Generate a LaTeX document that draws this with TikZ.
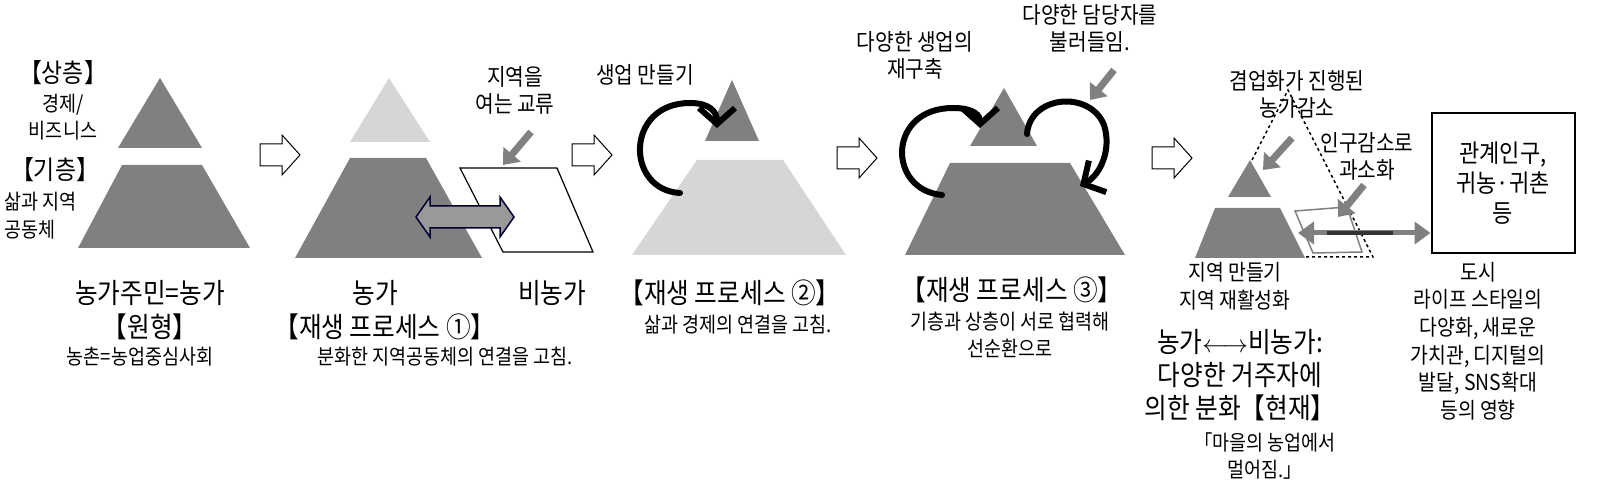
\documentclass[tikz,border=0pt]{standalone}
\usepackage{fontspec}
\setmainfont{Noto Sans CJK KR}[FakeStretch=0.88]
\usetikzlibrary{shapes, positioning, arrows.meta}

\begin{document}
\begin{tikzpicture}[x=1pt, y=-1pt,
    dark/.style={fill=black!50, draw=none},
    light/.style={fill=black!16, draw=none},
    big/.style={font=\fontsize{28}{32}\selectfont, inner sep=0pt, align=center},
    mid/.style={font=\fontsize{23}{27}\selectfont, inner sep=0pt, align=center},
    small/.style={font=\fontsize{21}{27}\selectfont, inner sep=0pt, align=center},
    step arrow/.pic={\draw[line width=1pt, fill=white]
        (-20,-11) -- (2,-11) -- (2,-20) -- (20,0) -- (2,20) -- (2,11) -- (-20,11) -- cycle;},
    swap arrow/.pic={\draw[line width=1.5pt, draw=black!80!blue, fill=black!40]
        (-49,0) -- (-35,-20) -- (-35,-11) -- (35,-11) -- (35,-20) -- (49,0)
        -- (35,20) -- (35,11) -- (-35,11) -- (-35,20) -- cycle;},
    pointer/.style={-{Triangle[length=14pt, width=22pt]}, line width=7pt, draw=black!50},
    loop/.style={line width=6pt, line cap=round,
        -{Straight Barb[length=16pt, width=36pt, line width=6pt]}}
]
\useasboundingbox (0,0) rectangle (1598,502);

% panel 1
\fill[dark] (160,78) -- (202,148) -- (118,148) -- cycle;
\fill[dark] (122,165) -- (202,165) -- (250,248) -- (78,248) -- cycle;
\node (Up1) [big, font=\fontsize{26}{30}\selectfont] at (63,73) {【상층】};
\node (Up1t) [mid, font=\fontsize{21}{27}\selectfont] at (63,117) {경제/\\비즈니스};
\node (Base1) [big, font=\fontsize{26}{30}\selectfont] at (55,170) {【기층】};
\node (Base1t) [mid, font=\fontsize{21}{28}\selectfont, align=left, anchor=west] at (4,216) {삶과 지역\\공동체};

\pic (S1) at (280,155) {step arrow};

% panel 2
\fill[light] (389,78) -- (430,142) -- (350,142) -- cycle;
\fill[dark] (350,158) -- (426,158) -- (482,258) -- (295,258) -- cycle;
\draw[line width=1.2pt, fill=white] (460,168) -- (557,168) -- (593,252) -- (503,252) -- cycle;
\coordinate (Q2) at (503,165);
\node (L2) [mid] at (515,90) {지역을\\여는 교류};
\draw[pointer] (531,132) -- (Q2);
\pic (X2) at (465,217) {swap arrow};

\pic (S2) at (592,155) {step arrow};

% panel 3
\fill[dark] (732,80) -- (759,141) -- (705,141) -- cycle;
\fill[light] (697,160) -- (783,160) -- (846,255) -- (632,255) -- cycle;
\node (L3) [mid] at (645,75) {생업 만들기};
\coordinate (C3a) at (680,193);
\coordinate (C3b) at (717,128);
\draw[loop] (C3a) .. controls (625,190) and (625,103) .. (690,103)
    .. controls (710,103) and (717,112) .. (C3b);

\pic (S3) at (857,158) {step arrow};

% panel 4
\fill[dark] (1004,88) -- (1037,146) -- (970,146) -- cycle;
\fill[dark] (950,163) -- (1070,163) -- (1125,255) -- (905,255) -- cycle;
\node (L4a) [mid] at (915,55) {다양한 생업의\\재구축};
\node (L4b) [mid] at (1090,28) {다양한 담당자를\\불러들임.};
\coordinate (C4a) at (942,195);
\coordinate (C4b) at (980,128);
\draw[loop] (C4a) .. controls (887,190) and (887,108) .. (953,108)
    .. controls (975,108) and (980,116) .. (C4b);
\coordinate (C4c) at (1027,134);
\coordinate (C4d) at (1080,186);
\draw[loop] (C4c) .. controls (1030,95) and (1090,90) .. (1104,125)
    .. controls (1112,150) and (1100,175) .. (C4d);
\coordinate (Q4) at (1090,100);
\draw[pointer] (1114,70) -- (Q4);

\pic (S4) at (1172,158) {step arrow};

% panel 5
\fill[dark] (1250,160) -- (1271,197) -- (1228,197) -- cycle;
\fill[dark] (1215,208) -- (1280,208) -- (1305,258) -- (1195,258) -- cycle;
\draw[dashed, line width=1.5pt] (1252,160) -- (1288,90) -- (1373,257) -- (1305,257);
\draw[black!50, line width=1.5pt] (1295,211) -- (1347,207) -- (1362,252) -- (1313,253) -- cycle;
\node (L5a) [mid] at (1297,94) {겸업화가 진행된\\농가감소};
\node (L5b) [mid] at (1367,156) {인구감소로\\과소화};
\coordinate (Q5a) at (1263,170);
\coordinate (Q5b) at (1338,217);
\draw[pointer] (1292,138) -- (Q5a);
\draw[pointer] (1364,185) -- (Q5b);
\node (City) [draw, line width=2pt, minimum width=143pt, minimum height=140pt,
    mid, font=\fontsize{25}{30}\selectfont] at (1503,183) {관계인구,\\귀농·귀촌\\등};
\coordinate (X5) at (1298,233);
\draw[black!50, line width=5pt, {Triangle[length=16pt, width=22pt]}-{Triangle[length=16pt, width=22pt]}]
    (X5) -- (City.west |- X5);
\draw[black!80, line width=4pt] (1327,233) -- (1393,233);

% labels below
\node (T1) [big, font=\fontsize{28}{34}\selectfont] at (150,310) {농가주민=농가\\【원형】};
\node (T1b) [small] at (140,357) {농촌=농업중심사회};
\node (T2a) [big] at (375,293) {농가};
\node (T2b) [big] at (552,293) {비농가};
\node (T2) [big] at (385,327) {【재생 프로세스 ①】};
\node (T2c) [small] at (445,357) {분화한 지역공동체의 연결을 고침.};
\node (T3) [big] at (730,293) {【재생 프로세스 ②】};
\node (T3b) [small] at (738,325) {삶과 경제의 연결을 고침.};
\node (T4) [big] at (1012,290) {【재생 프로세스 ③】};
\node (T4b) [small] at (1010,335) {기층과 상층이 서로 협력해\\선순환으로};
\node (T5) [mid, font=\fontsize{22}{28}\selectfont] at (1235,286) {지역 만들기\\지역 재활성화};
\node (T5b) [big, font=\fontsize{28}{33}\selectfont] at (1240,375)
    {농가$\longleftrightarrow$비농가:\\다양한 거주자에\\의한 분화【현재】};
\node (T5c) [small] at (1265,456) {「마을의 농업에서\\멀어짐.」};
\node (T6) [mid, font=\fontsize{22}{27.6}\selectfont] at (1478,341)
    {도시\\라이프 스타일의\\다양화, 새로운\\가치관, 디지털의\\발달, SNS확대\\등의 영향};
\end{tikzpicture}
\end{document}
